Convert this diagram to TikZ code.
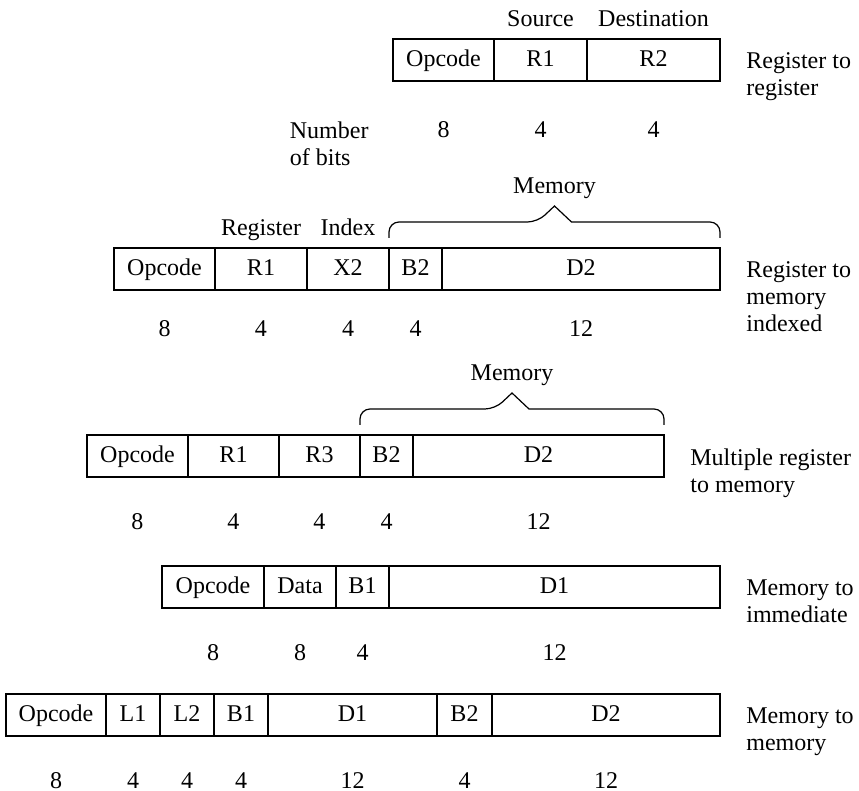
\documentclass[tikz,border=0pt]{standalone}
\usepackage{fontspec}
\setmainfont{Liberation Serif}
\usetikzlibrary{positioning, calc}

\begin{document}
\begin{tikzpicture}[node distance=0pt, font=\fontsize{12}{13.5}\selectfont]
 \tikzstyle{field}=[rectangle,draw=black,line width=0.8pt,outer sep=0pt,
   minimum height=21pt,inner sep=0pt,text height=8pt,text depth=1.5pt,
   text centered]
 \tikzstyle{bits}=[inner sep=0pt,text height=8pt,text depth=0pt]
 \tikzstyle{toplabel}=[inner sep=0pt,text depth=0pt]
 \tikzstyle{rowlabel}=[inner sep=0pt,align=left,anchor=north west]
 \tikzstyle{brace}=[line width=0.6pt]
 \useasboundingbox (0,0) rectangle (429.5pt,-395.5pt);

 % register to register
 \node (opA) [field,minimum width=50.5pt,anchor=north west] at (196.5pt,-19.5pt) {Opcode};
 \node (rA1) [field,minimum width=46.5pt,right=of opA] {R1};
 \node (rA2) [field,minimum width=66.5pt,right=of rA1] {R2};
 \node (srcA) [toplabel,above=6pt of rA1] {Source};
 \node (dstA) [toplabel,above=6pt of rA2] {Destination};
 \node (nA0) [bits,below=20pt of opA] {8};
 \node (nA1) [bits,below=20pt of rA1] {4};
 \node (nA2) [bits,below=20pt of rA2] {4};
 \node (nbits) [rowlabel] at ([xshift=-77pt]nA0.north) {Number\\of bits};
 \node (labA) [rowlabel] at ([xshift=13pt,yshift=4pt]rA2.east) {Register to\\register};

 % register to memory indexed
 \node (opB) [field,minimum width=50.5pt,anchor=north west] at (57pt,-124pt) {Opcode};
 \node (rB1) [field,minimum width=46pt,right=of opB] {R1};
 \node (xB2) [field,minimum width=41pt,right=of rB1] {X2};
 \node (bB2) [field,minimum width=26.5pt,right=of xB2] {B2};
 \node (dB2) [field,minimum width=139pt,right=of bB2] {D2};
 \node (regB) [toplabel,above=6pt of rB1] {Register};
 \node (idxB) [toplabel,above=6pt of xB2] {Index};
 \coordinate (memB) at ($(bB2.north west)!.5!(dB2.north east)$);
 \coordinate (peakB) at ([yshift=21pt]memB);
 \draw[brace,rounded corners=5pt] ([yshift=5pt]bB2.north west)
   |- ([xshift=-8.5pt,yshift=13pt]memB) [sharp corners] -- (peakB)
   -- ([xshift=8.5pt,yshift=13pt]memB) [rounded corners=5pt]
   -| ([yshift=5pt]dB2.north east);
 \node (memlabB) [toplabel,above=6pt of peakB] {Memory};
 \node (nB0) [bits,below=15pt of opB] {8};
 \node (nB1) [bits,below=15pt of rB1] {4};
 \node (nB2) [bits,below=15pt of xB2] {4};
 \node (nB3) [bits,below=15pt of bB2] {4};
 \node (nB4) [bits,below=15pt of dB2] {12};
 \node (labB) [rowlabel] at ([xshift=13pt,yshift=4pt]dB2.east) {Register to\\memory\\indexed};

 % multiple register to memory
 \node (opC) [field,minimum width=50.5pt,anchor=north west] at (43.5pt,-217.5pt) {Opcode};
 \node (rC1) [field,minimum width=45.5pt,right=of opC] {R1};
 \node (rC3) [field,minimum width=40.5pt,right=of rC1] {R3};
 \node (bC2) [field,minimum width=26.5pt,right=of rC3] {B2};
 \node (dC2) [field,minimum width=125.5pt,right=of bC2] {D2};
 \coordinate (memC) at ($(bC2.north west)!.5!(dC2.north east)$);
 \coordinate (peakC) at ([yshift=21pt]memC);
 \draw[brace,rounded corners=5pt] ([yshift=5pt]bC2.north west)
   |- ([xshift=-8.5pt,yshift=13pt]memC) [sharp corners] -- (peakC)
   -- ([xshift=8.5pt,yshift=13pt]memC) [rounded corners=5pt]
   -| ([yshift=5pt]dC2.north east);
 \node (memlabC) [toplabel,above=6pt of peakC] {Memory};
 \node (nC0) [bits,below=18pt of opC] {8};
 \node (nC1) [bits,below=18pt of rC1] {4};
 \node (nC2) [bits,below=18pt of rC3] {4};
 \node (nC3) [bits,below=18pt of bC2] {4};
 \node (nC4) [bits,below=18pt of dC2] {12};
 \node (labC) [rowlabel] at ([xshift=13pt,yshift=4pt]dC2.east) {Multiple register\\to memory};

 % memory to immediate
 \node (opD) [field,minimum width=51pt,anchor=north west] at (81pt,-283pt) {Opcode};
 \node (dataD) [field,minimum width=36pt,right=of opD] {Data};
 \node (bD1) [field,minimum width=26.5pt,right=of dataD] {B1};
 \node (dD1) [field,minimum width=165.5pt,right=of bD1] {D1};
 \node (nD0) [bits,below=18pt of opD] {8};
 \node (nD1) [bits,below=18pt of dataD] {8};
 \node (nD2) [bits,below=18pt of bD1] {4};
 \node (nD3) [bits,below=18pt of dD1] {12};
 \node (labD) [rowlabel] at ([xshift=13pt,yshift=4pt]dD1.east) {Memory to\\immediate};

 % memory to memory
 \node (opE) [field,minimum width=50pt,anchor=north west] at (3pt,-347pt) {Opcode};
 \node (lE1) [field,minimum width=27pt,right=of opE] {L1};
 \node (lE2) [field,minimum width=27pt,right=of lE1] {L2};
 \node (bE1) [field,minimum width=27pt,right=of lE2] {B1};
 \node (dE1) [field,minimum width=84.5pt,right=of bE1] {D1};
 \node (bE2) [field,minimum width=27.5pt,right=of dE1] {B2};
 \node (dE2) [field,minimum width=114pt,right=of bE2] {D2};
 \node (nE0) [bits,below=18pt of opE] {8};
 \node (nE1) [bits,below=18pt of lE1] {4};
 \node (nE2) [bits,below=18pt of lE2] {4};
 \node (nE3) [bits,below=18pt of bE1] {4};
 \node (nE4) [bits,below=18pt of dE1] {12};
 \node (nE5) [bits,below=18pt of bE2] {4};
 \node (nE6) [bits,below=18pt of dE2] {12};
 \node (labE) [rowlabel] at ([xshift=13pt,yshift=4pt]dE2.east) {Memory to\\memory};
\end{tikzpicture}
\end{document}
